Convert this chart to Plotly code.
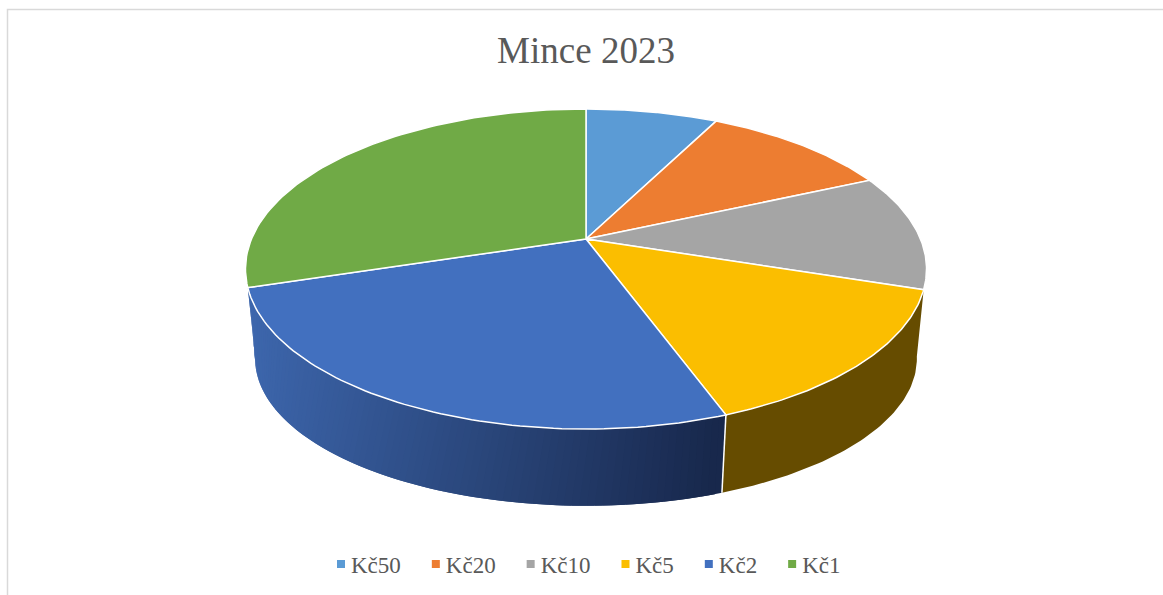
import numpy as np
import plotly.graph_objects as go

categories = ["Kč50", "Kč20", "Kč10", "Kč5", "Kč2", "Kč1"]
values = [7.5, 10.8, 11.7, 14.4, 25.8, 29.8]
colors = ["#5B9BD5", "#ED7D31", "#A5A5A5", "#FBBE00", "#4270BF", "#70AA46"]
side_yellow = "#664C00"
blue_left = np.array([61, 102, 172])
blue_right = np.array([24, 40, 76])

W, H = 1163, 595
CX = 586
K = -0.1875
TOP = dict(cy=239.0, a=154.4, b=334.5)
BOT = dict(cy=331.0, a=142.0, b=325.0)


def project(theta_deg, disc):
    t = np.radians(theta_deg)
    X, Y = np.sin(t), -np.cos(t)
    d = 1 + K * Y
    return CX + disc["b"] * X / d, disc["cy"] + disc["a"] * Y / d


total = sum(values)
edges = np.concatenate([[0], np.cumsum(values)]) / total * 360
fig = go.Figure()

# yellow side
s0, s1 = edges[3], edges[4]
tx, ty = project(np.linspace(s0, s1, 60), TOP)
bx, by = project(np.linspace(s1, 100, 60), BOT)
fig.add_trace(go.Scatter(x=np.r_[tx, bx], y=np.r_[ty, by], fill="toself", fillcolor=side_yellow,
                         mode="lines", line=dict(width=0), showlegend=False, hoverinfo="skip"))

# blue side with its horizontal gradient (strips overlap to hide seams)
s0, s1 = edges[4], edges[5]
N = 90
top_th = np.linspace(s0, s1, N + 1)
bot_th = np.linspace(s0, 260, N + 1)
for i in range(N):
    j = min(i + 3, N + 1)
    tx, ty = project(top_th[i:j], TOP)
    bx, by = project(bot_th[i:j][::-1], BOT)
    xs, ys = np.r_[tx, bx], np.r_[ty, by]
    mx, _ = project(top_th[i], TOP)
    f = np.clip((mx - 256) / (722 - 256), 0, 1)
    c = blue_left + (blue_right - blue_left) * f
    col = "rgb(%d,%d,%d)" % tuple(c)
    fig.add_trace(go.Scatter(x=xs, y=ys, fill="toself", fillcolor=col, mode="lines",
                             line=dict(width=0), showlegend=False, hoverinfo="skip"))

# seam between the two visible sides
sx0, sy0 = project(edges[4], TOP)
sx1, sy1 = project(edges[4], BOT)
fig.add_trace(go.Scatter(x=[sx0, sx1], y=[sy0, sy1], mode="lines", line=dict(width=1.5, color="white"),
                         showlegend=False, hoverinfo="skip"))

# top face
for i, name in enumerate(categories):
    th = np.linspace(edges[i], edges[i + 1], 80)
    x, y = project(th, TOP)
    fig.add_trace(go.Scatter(x=np.r_[CX, x, CX], y=np.r_[TOP["cy"], y, TOP["cy"]], fill="toself",
                             fillcolor=colors[i], mode="lines", line=dict(width=1.5, color="white"),
                             name=name, legendgroup=name, showlegend=False,
                             hovertemplate=f"{name}: {values[i]}%<extra></extra>"))

# legend entries
for i, name in enumerate(categories):
    fig.add_trace(go.Scatter(x=[None], y=[None], mode="markers", name=name, legendgroup=name,
                             marker=dict(symbol="square", size=8, color=colors[i])))

fig.update_layout(
    width=W, height=H, autosize=False,
    margin=dict(l=0, r=0, t=0, b=0),
    paper_bgcolor="white", plot_bgcolor="white",
    font=dict(family="Liberation Serif", color="#595959"),
    title=dict(text="Mince 2023", x=586 / W, xanchor="center", y=1 - 50 / H, yanchor="middle",
               font=dict(family="Liberation Serif", size=37, color="#595959")),
    xaxis=dict(range=[0, W], visible=False, fixedrange=True),
    yaxis=dict(range=[H, 0], visible=False, fixedrange=True),
    legend=dict(orientation="h", x=588.5 / W, xanchor="center", y=1 - 564 / H, yanchor="middle",
                font=dict(family="Liberation Serif", size=23, color="#595959"),
                bgcolor="rgba(0,0,0,0)"),
    shapes=[dict(type="path", path=f"M 7.5 {H} L 7.5 9.5 L {W} 9.5", xref="x", yref="y",
                 line=dict(color="#D9D9D9", width=1.5))],
)
fig.write_html("out.html", config={"displayModeBar": False},
               post_script="document.body.style.margin='0';document.documentElement.style.overflow='hidden';"
                           "document.querySelectorAll('.legendtext').forEach(function(t){t.setAttribute('x','30');});")
